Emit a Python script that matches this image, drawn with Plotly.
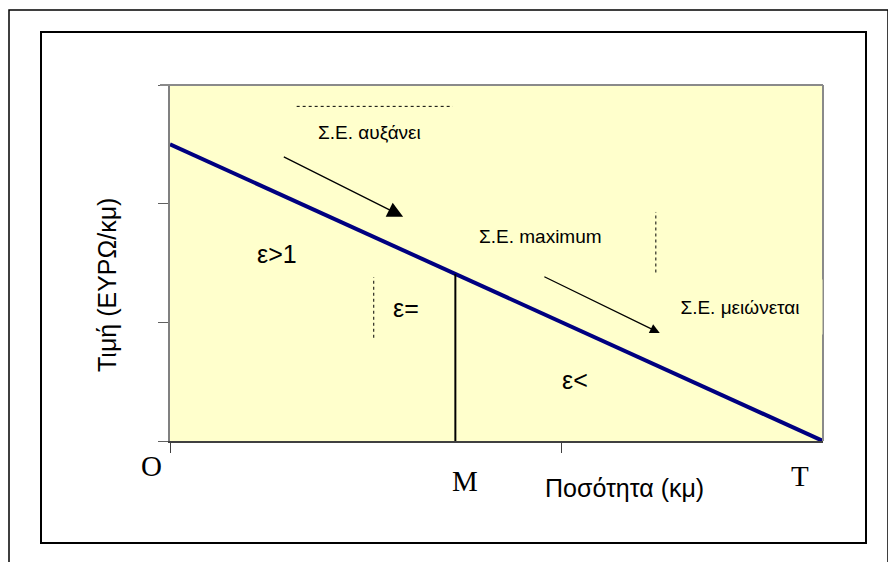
import plotly.graph_objects as go

# ---- data ----
quantity = [0, 10]          # O ... T
price = [2.5, 0]            # demand line end points
q_M = 4.37                  # quantity at M (unit elasticity point)
y_ticks = [0, 1, 2, 3]
x_ticks = [0, 6]

p_M = price[0] * (1 - q_M / quantity[1])

labels_text = ["Σ.Ε. αυξάνει", "Σ.Ε. maximum", "ε>1", "ε=", "ε<"]
labels_x = [3.06, 5.67, 1.64, 3.61, 6.20]
labels_y = [2.60, 1.72, 1.58, 1.12, 0.51]
labels_size = [19, 19, 25, 25, 25]

point_text = ["O", "M", "T"]
point_px = [151, 465, 800]
point_py = [466, 481, 476]

# plot area in pixels
L, R, T, B = 170, 823, 85, 441
W, H = 888, 562


def px(x):
    return (x - L) / (R - L)


def py(y):
    return (B - y) / (B - T)


NAVY = "#000080"
C = dict(xanchor="center", yanchor="middle")
fig = go.Figure()

fig.add_trace(go.Scatter(x=quantity, y=price, mode="lines",
                         line=dict(color=NAVY, width=4), hoverinfo="skip",
                         showlegend=False))
fig.add_trace(go.Scatter(x=[q_M, q_M], y=[0, p_M], mode="lines",
                         line=dict(color="black", width=2), hoverinfo="skip",
                         showlegend=False))

ann = []
for t, x, y, s in zip(labels_text, labels_x, labels_y, labels_size):
    ann.append(dict(x=x, y=y, xref="x", yref="y", text=t, showarrow=False, **C,
                    font=dict(family="Liberation Sans, Arial", size=s, color="black")))

ann.append(dict(x=8.73, y=1.13, xref="x", yref="y", text="Σ.Ε. μειώνεται",
                showarrow=False, bgcolor="#FFFFCC", width=160, height=50,
                borderpad=2, **C,
                font=dict(family="Liberation Sans, Arial", size=19, color="black")))

for t, x, y in zip(point_text, point_px, point_py):
    ann.append(dict(x=px(x), y=py(y), xref="paper", yref="paper", text=t,
                    showarrow=False, **C,
                    font=dict(family="Liberation Serif, Times New Roman", size=29, color="black")))

ann.append(dict(x=px(624), y=py(488), xref="paper", yref="paper", text="Ποσότητα (κμ)",
                showarrow=False, **C,
                font=dict(family="Liberation Sans, Arial", size=25, color="black")))
ann.append(dict(x=px(107), y=py(285), xref="paper", yref="paper", text="Τιμή (ΕΥΡΩ/κμ)",
                showarrow=False, textangle=-90, **C,
                font=dict(family="Liberation Sans, Arial", size=25, color="black")))

# arrows
ann.append(dict(x=3.57, y=1.89, ax=1.72, ay=2.40, xref="x", yref="y",
                axref="x", ayref="y", text="", showarrow=True, arrowhead=2,
                arrowsize=2.4, arrowwidth=1.3, arrowcolor="black"))
ann.append(dict(x=7.50, y=0.91, ax=5.71, ay=1.39, xref="x", yref="y",
                axref="x", ayref="y", text="", showarrow=True, arrowhead=2,
                arrowsize=1.5, arrowwidth=1.3, arrowcolor="black"))

shapes = [
    # dotted guide lines
    dict(type="line", xref="x", yref="y", x0=1.94, x1=4.33, y0=2.82, y1=2.82,
         line=dict(color="black", width=1, dash="dot")),
    dict(type="line", xref="x", yref="y", x0=3.12, x1=3.12, y0=0.87, y1=1.38,
         line=dict(color="black", width=1, dash="dot")),
    dict(type="line", xref="x", yref="y", x0=7.44, x1=7.44, y0=1.42, y1=1.93,
         line=dict(color="black", width=1, dash="dot")),
    # plot area border (top, right)
    dict(type="line", xref="paper", yref="paper", x0=px(160), x1=1, y0=1, y1=1,
         line=dict(color="#8a8a8a", width=2), layer="above"),
    dict(type="line", xref="paper", yref="paper", x0=1, x1=1, y0=0, y1=1,
         line=dict(color="#8a8a8a", width=2), layer="above"),
    # inner frame
    dict(type="rect", xref="paper", yref="paper", x0=px(41), x1=px(866),
         y0=py(543), y1=py(32), line=dict(color="black", width=2)),
    # outer frame
    dict(type="rect", xref="paper", yref="paper", x0=px(9), x1=px(888),
         y0=py(575), y1=py(10), line=dict(color="black", width=1.5)),
]

fig.update_layout(
    width=W, height=H, autosize=False,
    margin=dict(l=L, r=W - R, t=T, b=H - B),
    paper_bgcolor="white", plot_bgcolor="#FFFFCC",
    showlegend=False,
    annotations=ann, shapes=shapes,
    xaxis=dict(range=[0, 10], tickvals=x_ticks, showticklabels=False,
               ticks="outside", ticklen=10, tickcolor="#404040", tickwidth=1,
               showgrid=False, zeroline=False, showline=True,
               linecolor="#404040", linewidth=2, fixedrange=True),
    yaxis=dict(range=[0, 3], tickvals=y_ticks, showticklabels=False,
               ticks="outside", ticklen=10, tickcolor="#606060", tickwidth=1,
               showgrid=False, zeroline=False, showline=True,
               linecolor="#808080", linewidth=1.5, fixedrange=True),
)

fig.write_html("out.html", config={"displayModeBar": False},
               post_script="document.body.style.margin='0';document.body.style.overflow='hidden';")
